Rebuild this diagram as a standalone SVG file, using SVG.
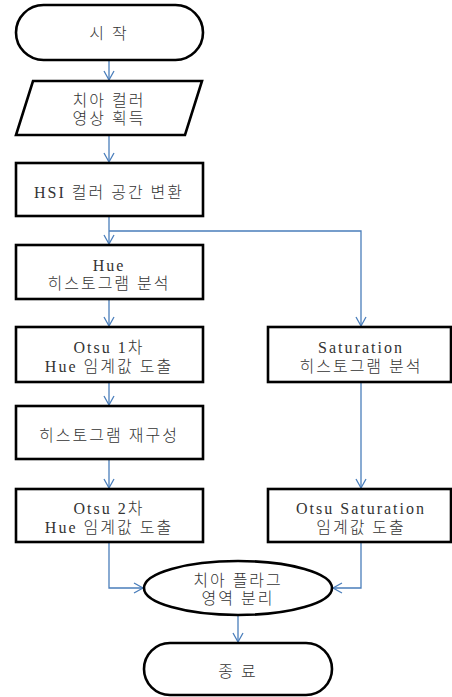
<svg xmlns="http://www.w3.org/2000/svg" width="452" height="697" viewBox="0 0 452 697">
<defs>
<marker id="arr" markerWidth="12" markerHeight="12" refX="10" refY="6" orient="auto" markerUnits="userSpaceOnUse">
<path d="M1,1 L10,6 L1,11" fill="none" stroke="#4a7ebb" stroke-width="1.3"/>
</marker>
</defs>
<style>
.shape{fill:#fff;stroke:#000;stroke-width:2.6}
.t{font-family:"Liberation Serif","Noto Sans CJK KR",serif;font-size:16px;font-weight:300;letter-spacing:2px;fill:#333;text-anchor:middle;dominant-baseline:central}
.c{fill:none;stroke:#4a7ebb;stroke-width:1.3;marker-end:url(#arr)}
</style>
<rect width="452" height="697" fill="#fff"/>
<g id="connectors">
<path class="c" d="M109,60 V80"/>
<path class="c" d="M109,135 V162"/>
<path class="c" d="M109,216 V244"/>
<path class="c" d="M109,231 H361 V326"/>
<path class="c" d="M109,299 V326"/>
<path class="c" d="M109,382 V405"/>
<path class="c" d="M109,459 V488"/>
<path class="c" d="M361,382 V488"/>
<path class="c" d="M109,542 V588 H143"/>
<path class="c" d="M361,542 V588 H333"/>
<path class="c" d="M238,615 V642"/>
</g>
<g id="start">
<rect class="shape" x="16" y="5" width="187" height="55" rx="27.5"/>
<text class="t" x="109" y="33">시 작</text>
</g>
<g id="input">
<polygon class="shape" points="33,81 202,81 185,135 16,135"/>
<text class="t" x="109" y="100">치아 컬러</text>
<text class="t" x="109" y="118">영상 획득</text>
</g>
<g id="hsi">
<rect class="shape" x="16" y="163" width="187" height="53"/>
<text class="t" x="109" y="192">HSI 컬러 공간 변환</text>
</g>
<g id="hue">
<rect class="shape" x="16" y="245" width="187" height="54"/>
<text class="t" x="109" y="265">Hue</text>
<text class="t" x="109" y="283">히스토그램 분석</text>
</g>
<g id="otsu1">
<rect class="shape" x="16" y="327" width="187" height="55"/>
<text class="t" x="109" y="347">Otsu 1차</text>
<text class="t" x="109" y="366">Hue 임계값 도출</text>
</g>
<g id="sat">
<rect class="shape" x="268" y="327" width="183" height="55"/>
<text class="t" x="361" y="347">Saturation</text>
<text class="t" x="361" y="366">히스토그램 분석</text>
</g>
<g id="rebuild">
<rect class="shape" x="16" y="406" width="187" height="53"/>
<text class="t" x="109" y="435">히스토그램 재구성</text>
</g>
<g id="otsu2">
<rect class="shape" x="16" y="489" width="187" height="53"/>
<text class="t" x="109" y="508">Otsu 2차</text>
<text class="t" x="109" y="527">Hue 임계값 도출</text>
</g>
<g id="otsusat">
<rect class="shape" x="268" y="489" width="183" height="53"/>
<text class="t" x="361" y="508">Otsu Saturation</text>
<text class="t" x="361" y="527">임계값 도출</text>
</g>
<g id="separate">
<ellipse class="shape" cx="238" cy="588" rx="94" ry="27"/>
<text class="t" x="238" y="580">치아 플라그</text>
<text class="t" x="238" y="598">영역 분리</text>
</g>
<g id="end">
<rect class="shape" x="144" y="643" width="188" height="52" rx="26"/>
<text class="t" x="238" y="671">종 료</text>
</g>
</svg>
